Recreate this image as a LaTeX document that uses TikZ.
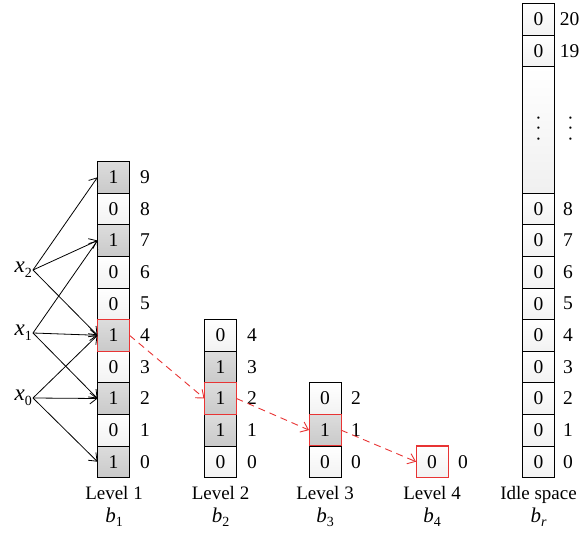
\documentclass[tikz,border=0pt]{standalone}
\usepackage{fontspec}
\setmainfont{Liberation Serif}
\usetikzlibrary{arrows.meta}
\definecolor{hitred}{RGB}{232,52,52}
% italic variable with a subscript
\newcommand\ivar[2]{\textit{#1}\raisebox{-0.5ex}{\fontsize{14}{14}\selectfont #2}}
% three stacked dots
\newcommand\vdotsbig{\rotatebox{90}{.\hspace{5.6pt}.\hspace{5.6pt}.}}

\begin{document}
\begin{tikzpicture}[x=1pt,y=-1pt,
  font=\fontsize{19}{22}\selectfont,
  cell/.style={draw=black, line width=0.7pt, minimum width=32pt,
    minimum height=31.6pt, inner sep=0pt, outer sep=0pt,
    font=\fontsize{19.5}{22}\selectfont},
  s1/.style={cell, top color=gray!27, bottom color=gray!42},
  s0/.style={cell, top color=white, bottom color=gray!10},
  idx/.style={inner sep=0pt, font=\fontsize{19.5}{22}\selectfont},
  lab/.style={anchor=base, inner sep=0pt},
  hit/.style={draw=hitred, line width=1pt},
  arr/.style={draw=black, line width=0.8pt,
    -{Straight Barb[length=7pt,width=11pt,line width=0.8pt]}},
  redarr/.style={draw=hitred, line width=0.9pt, dash pattern=on 7pt off 5pt,
    -{Straight Barb[length=7pt,width=11pt,line width=0.9pt]}},
]
\useasboundingbox (0,0) rectangle (584,537);

% Level 1
\foreach \v [count=\i from 0] in {1,0,1,0,1,0,0,1,0,1} {
  \node[s\v] (A\i) at (113.5,{477.5-31.6*(\i+0.5)}) {\v};
  \node[idx] (nA\i) at (145,{477.5-31.6*(\i+0.5)}) {\i};
}
% Level 2
\foreach \v [count=\i from 0] in {0,1,1,1,0} {
  \node[s\v] (B\i) at (220.5,{477.5-31.6*(\i+0.5)}) {\v};
  \node[idx] (nB\i) at (252,{477.5-31.6*(\i+0.5)}) {\i};
}
% Level 3
\foreach \v [count=\i from 0] in {0,1,0} {
  \node[s\v] (C\i) at (325,{477.5-31.6*(\i+0.5)}) {\v};
  \node[idx] (nC\i) at (356,{477.5-31.6*(\i+0.5)}) {\i};
}
% Level 4
\node[s0, draw=hitred] (D0) at (432,{477.5-31.6*0.5}) {0};
\node[idx] (nD0) at (463,{477.5-31.6*0.5}) {0};

% Idle space
\foreach \i in {0,...,8} {
  \node[s0] (R\i) at (538.5,{477.5-31.6*(\i+0.5)}) {0};
  \node[idx] (nR\i) at (568,{477.5-31.6*(\i+0.5)}) {\i};
}
\node[cell, minimum height=126.4pt, top color=white, bottom color=gray!12] (Rdots)
  at (538.5,{477.5-31.6*11}) {};
\node[inner sep=0pt] (vdR) at (538.5,128.5) {\vdotsbig};
\node[inner sep=0pt] (vdN) at (570.5,128.5) {\vdotsbig};
\node[s0] (R19) at (538.5,{477.5-31.6*13.5}) {0};
\node[idx] (nR19) at (569.5,{477.5-31.6*13.5}) {19};
\node[s0] (R20) at (538.5,{477.5-31.6*14.5}) {0};
\node[idx] (nR20) at (569.5,{477.5-31.6*14.5}) {20};

% highlighted cells along the query path
\foreach \c in {A4,B2,C1,D0}
  \draw[hit] (\c.south west) rectangle (\c.north east);

% hashed inputs
\node[anchor=east, inner sep=1pt, font=\fontsize{23}{24}\selectfont] (x2) at (33,270) {\ivar{x}{2}};
\node[anchor=east, inner sep=1pt, font=\fontsize{23}{24}\selectfont] (x1) at (33,333) {\ivar{x}{1}};
\node[anchor=east, inner sep=1pt, font=\fontsize{23}{24}\selectfont] (x0) at (33,398) {\ivar{x}{0}};

\draw[arr] (x2.east) -- (A9.west);
\draw[arr] (x2.east) -- (A7.west);
\draw[arr] (x2.east) -- (A4.west);
\draw[arr] (x1.east) -- (A7.west);
\draw[arr] (x1.east) -- (A4.west);
\draw[arr] (x1.east) -- (A2.west);
\draw[arr] (x0.east) -- (A4.west);
\draw[arr] (x0.east) -- (A2.west);
\draw[arr] (x0.east) -- (A0.west);

% descent between levels
\draw[redarr] (A4.east) -- (B2.west);
\draw[redarr] (B2.east) -- (C1.west);
\draw[redarr] (C1.east) -- (D0.west);

% captions
\node[lab] (lA) at (114,499) {Level 1};
\node[lab] (lB) at (220.5,499) {Level 2};
\node[lab] (lC) at (325,499) {Level 3};
\node[lab] (lD) at (432,499) {Level 4};
\node[lab] (lR) at (538.5,499) {Idle space};
\node[lab, font=\fontsize{21}{22}\selectfont] (bA) at (114,522) {\ivar{b}{1}};
\node[lab, font=\fontsize{21}{22}\selectfont] (bB) at (220.5,522) {\ivar{b}{2}};
\node[lab, font=\fontsize{21}{22}\selectfont] (bC) at (325,522) {\ivar{b}{3}};
\node[lab, font=\fontsize{21}{22}\selectfont] (bD) at (432,522) {\ivar{b}{4}};
\node[lab, font=\fontsize{21}{22}\selectfont] (bR) at (538.5,522) {\ivar{b}{\textit{r}}};
\end{tikzpicture}
\end{document}
